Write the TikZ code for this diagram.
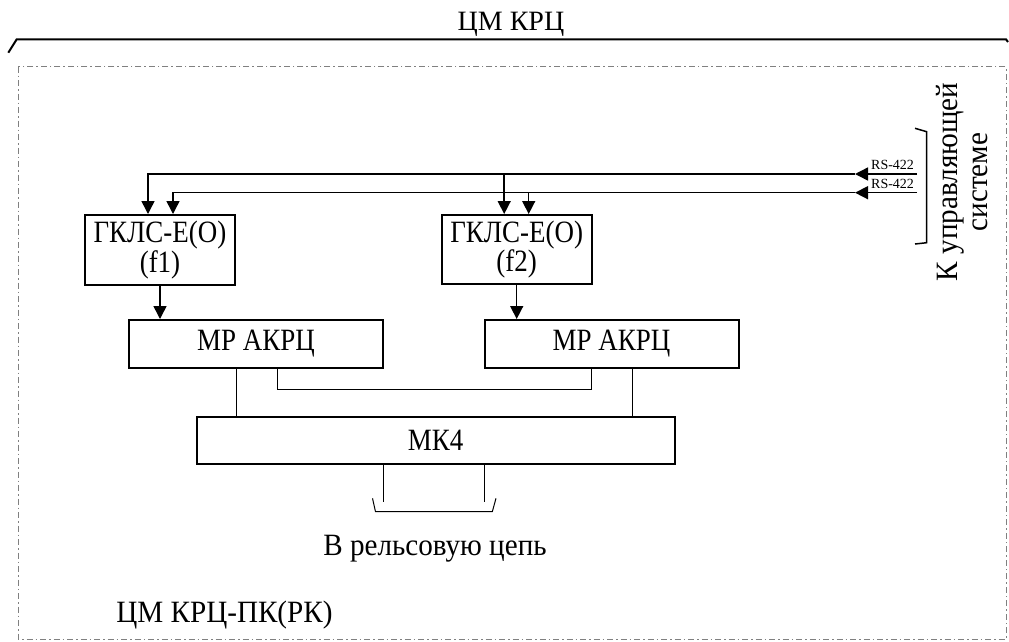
\documentclass[tikz,border=0pt]{standalone}
\usepackage{fontspec}
\setmainfont{Liberation Serif}
\newfontfamily\condfont{Liberation Serif}[FakeStretch=0.87]
\newfontfamily\widefont{Liberation Serif}[FakeStretch=0.94]
\usetikzlibrary{arrows.meta}
\begin{document}
\begin{tikzpicture}[x=1pt,y=-1pt,
  txt/.style={font=\widefont\fontsize{31}{30}\selectfont},
  blk/.style={draw, line width=2pt, inner sep=0pt, align=center, font=\condfont\fontsize{31}{25}\selectfont},
  arr/.style={line width=1.5pt, -{Triangle[length=13pt,width=13pt]}},
  ln/.style={line width=1.5pt},
  thinln/.style={line width=1pt},
  rslbl/.style={font=\fontsize{14}{14}\selectfont, inner sep=0pt},
  frame/.style={draw=gray, line width=1pt, dash pattern=on 6pt off 3pt on 1.5pt off 3pt}]
\useasboundingbox (0,0) rectangle (1009,641);
% outer frame
\draw[frame] (18.3,66.7) rectangle (1006,639);
% top bracket and title
\draw[line width=2pt] (8.3,52.7) -- (16.7,39.3) -- (1006,39.3) -- (1008,42);
\node[font=\fontsize{28}{30}\selectfont, anchor=base] (title) at (511,30) {ЦМ КРЦ};
% blocks
\node[blk, minimum width=150pt, minimum height=70pt] (f1) at (160,250) {ГКЛС-Е(О)\\(f1)};
\node[blk, minimum width=150pt, minimum height=69pt] (f2) at (516.7,249.5) {ГКЛС-Е(О)\\(f2)};
\node[blk, minimum width=254pt, minimum height=48pt] (mr1) at (256,344) {МР АКРЦ};
\node[blk, minimum width=254pt, minimum height=48pt] (mr2) at (611.5,344) {МР АКРЦ};
\node[blk, minimum width=478pt, minimum height=47pt] (mk) at (435.6,440.3) {МК4};
% RS-422 inputs
\coordinate (rs1) at (917,174);
\coordinate (rs2) at (917,192.7);
\coordinate (m1) at (855,174);
\coordinate (m2) at (855,192.7);
\draw[arr] (rs1) -- (m1);
\draw[arr] (rs2) -- (m2);
\draw[arr] (m1) -| ([xshift=-12pt]f1.north);
\draw[arr] (m2) -| ([xshift=13pt]f1.north);
\draw[arr] ([xshift=-12.5pt]f2.north |- m1) -- ([xshift=-12.5pt]f2.north);
\draw[arr] ([xshift=12pt]f2.north |- m2) -- ([xshift=12pt]f2.north);
\node[rslbl, anchor=base west] (l1) at (871,169.5) {RS-422};
\node[rslbl, anchor=base west] (l2) at (871,188) {RS-422};
% bracket to control system
\draw[ln] (915,128.3) -- (926.7,131.7) -- (926.7,242.7) -- (915,244);
\node[txt, rotate=90, align=center] (ks) at (961.7,182) {К управляющей\\системе};
% generator -> receiver
\draw[arr] (f1.south) -- (f1.south |- mr1.north);
\draw[arr] (f2.south) -- (f2.south |- mr2.north);
% receivers -> MK4
\draw[thinln] ([xshift=-20pt]mr1.south) -- ([xshift=-20pt]mr1.south |- mk.north);
\draw[thinln] ([xshift=21pt]mr2.south) -- ([xshift=21pt]mr2.south |- mk.north);
\draw[thinln] ([xshift=21pt]mr1.south) -- ++(0,20.3) -| ([xshift=-20.5pt]mr2.south);
% to rail circuit
\coordinate (rl) at (383.2,501.7);
\coordinate (rr) at (484.6,501.7);
\draw[thinln] (mk.south -| rl) -- (rl);
\draw[thinln] (mk.south -| rr) -- (rr);
\draw[thinln] (372.5,498.3) -- (375.5,511.7) -- (492.3,511.7) -- (496,498.3);
\node[txt, anchor=base] (rail) at (435,555) {В рельсовую цепь};
\node[txt, anchor=base] (cm) at (224.5,622) {ЦМ КРЦ-ПК(РК)};
\end{tikzpicture}
\end{document}
